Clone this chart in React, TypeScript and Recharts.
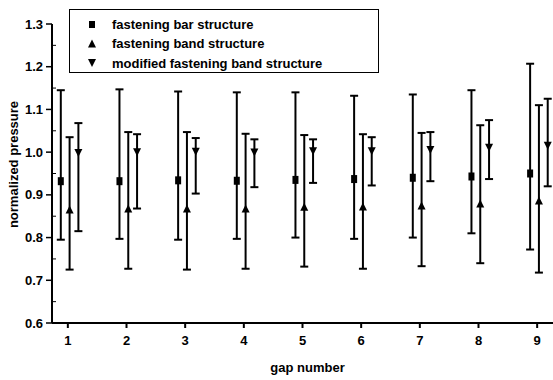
import React from 'react';
import { ComposedChart, Scatter, XAxis, YAxis, ErrorBar, Legend } from 'recharts';

const gaps = [1, 2, 3, 4, 5, 6, 7, 8, 9];

const barMean = [0.932, 0.932, 0.934, 0.933, 0.935, 0.937, 0.940, 0.943, 0.950];
const barLow = [0.795, 0.797, 0.795, 0.797, 0.800, 0.797, 0.800, 0.810, 0.772];
const barHigh = [1.145, 1.147, 1.142, 1.140, 1.140, 1.132, 1.135, 1.145, 1.207];

const bandMean = [0.866, 0.868, 0.868, 0.868, 0.872, 0.873, 0.875, 0.880, 0.887];
const bandLow = [0.725, 0.727, 0.725, 0.727, 0.732, 0.727, 0.733, 0.740, 0.718];
const bandHigh = [1.035, 1.047, 1.047, 1.043, 1.040, 1.042, 1.045, 1.063, 1.110];

const modMean = [0.998, 1.000, 1.001, 0.999, 1.002, 1.002, 1.005, 1.010, 1.015];
const modLow = [0.815, 0.868, 0.903, 0.918, 0.928, 0.922, 0.932, 0.937, 0.920];
const modHigh = [1.068, 1.042, 1.033, 1.030, 1.030, 1.035, 1.047, 1.075, 1.125];

const seriesNames = [
  'fastening bar structure',
  'fastening band structure',
  'modified fastening band structure',
];

const xTicks = [1, 2, 3, 4, 5, 6, 7, 8, 9];
const yMajorTicks = [0.6, 0.7, 0.8, 0.9, 1.0, 1.1, 1.2, 1.3];
const yMinorTicks = [0.65, 0.75, 0.85, 0.95, 1.05, 1.15, 1.25];

const FONT = '"Liberation Sans", Arial, sans-serif';

function build(mean: number[], low: number[], high: number[], offset: number) {
  return gaps.map((g, i) => ({
    x: g + offset,
    y: mean[i],
    err: [mean[i] - low[i], high[i] - mean[i]],
  }));
}

const barData = build(barMean, barLow, barHigh, -0.12);
const bandData = build(bandMean, bandLow, bandHigh, 0.03);
const modData = build(modMean, modLow, modHigh, 0.18);

const SquareShape = (p: any) => (
  <rect x={p.cx - 3} y={p.cy - 4} width={6} height={8} fill="#000" />
);
const UpShape = (p: any) => (
  <polygon points={`${p.cx - 4},${p.cy + 4} ${p.cx + 4},${p.cy + 4} ${p.cx},${p.cy - 4}`} fill="#000" />
);
const DownShape = (p: any) => (
  <polygon points={`${p.cx - 4},${p.cy - 4} ${p.cx + 4},${p.cy - 4} ${p.cx},${p.cy + 4}`} fill="#000" />
);

const YTick = (props: any) => {
  const { x, y, payload } = props;
  const v = payload.value;
  const isMajor = yMajorTicks.some((t) => Math.abs(t - v) < 1e-6);
  if (!isMajor) {
    return <line x1={x} x2={x + 4} y1={y} y2={y} stroke="#000" strokeWidth={1} />;
  }
  return (
    <g>
      <line x1={x - 6} x2={x} y1={y} y2={y} stroke="#000" strokeWidth={1.5} />
      <text x={x - 9} y={y} dy="0.355em" textAnchor="end" fontFamily={FONT} fontSize={13} fontWeight="bold" fill="#000">
        {v.toFixed(1)}
      </text>
    </g>
  );
};

const YLabel = (props: any) => {
  const vb = props.viewBox || { x: 0, y: 24, width: 52, height: 299 };
  const cx = vb.x + 13;
  const cy = vb.y + vb.height / 2 - 9;
  return (
    <text
      x={cx}
      y={cy}
      transform={`rotate(-90, ${cx}, ${cy})`}
      textAnchor="middle"
      dy="0.355em"
      fontFamily={FONT}
      fontSize={13}
      fontWeight="bold"
      fill="#000"
    >
      normalized pressure
    </text>
  );
};

const LegendBox = () => {
  const symbols = [
    (cx: number, cy: number) => <rect x={cx - 3} y={cy - 3} width={6} height={7} fill="#000" />,
    (cx: number, cy: number) => (
      <polygon points={`${cx - 4},${cy + 4} ${cx + 4},${cy + 4} ${cx},${cy - 4}`} fill="#000" />
    ),
    (cx: number, cy: number) => (
      <polygon points={`${cx - 4},${cy - 4} ${cx + 4},${cy - 4} ${cx},${cy + 4}`} fill="#000" />
    ),
  ];
  return (
    <svg width={311} height={65} style={{ display: 'block' }}>
      <rect x={0.5} y={0.5} width={309} height={63} fill="#fff" stroke="#000" strokeWidth={1} />
      {seriesNames.map((n, i) => (
        <g key={n}>
          {symbols[i](23, 15 + i * 19.5)}
          <text x={43} y={15 + i * 19.5} dy="0.355em" fontFamily={FONT} fontSize={13} fontWeight="bold" fill="#000">
            {n}
          </text>
        </g>
      ))}
    </svg>
  );
};

export default function App() {
  return (
    <div style={{ position: 'absolute', left: 0, top: 0, background: '#fff' }}>
      <ComposedChart
        width={553}
        height={380}
        margin={{ top: 24, right: 0, bottom: 0, left: 0 }}
      >
        <XAxis
          type="number"
          dataKey="x"
          domain={[0.73, 9.27]}
          ticks={xTicks}
          allowDataOverflow
          height={57}
          stroke="#000"
          strokeWidth={2}
          tickSize={5}
          tickMargin={8}
          tick={{ fontFamily: FONT, fontSize: 13, fontWeight: 'bold', fill: '#000' }}
          label={{
            value: 'gap number',
            position: 'insideBottom',
            offset: 8,
            dx: 5,
            style: { fontFamily: FONT, fontSize: 13, fontWeight: 'bold', fill: '#000' },
          }}
        />
        <YAxis
          type="number"
          dataKey="y"
          domain={[0.6, 1.3]}
          ticks={[...yMajorTicks, ...yMinorTicks].sort((a, b) => a - b)}
          allowDataOverflow
          interval={0}
          width={52}
          stroke="#000"
          strokeWidth={2}
          tickSize={0}
          tickMargin={0}
          tickLine={false}
          tick={<YTick />}
          label={<YLabel />}
        />
        <Legend
          layout="vertical"
          align="center"
          verticalAlign="middle"
          wrapperStyle={{ left: 69, top: 9, width: 311, height: 65 }}
          content={() => <LegendBox />}
        />
        <Scatter name={seriesNames[0]} data={barData} shape={SquareShape} isAnimationActive={false}>
          <ErrorBar dataKey="err" direction="y" width={4} stroke="#000" strokeWidth={2} />
        </Scatter>
        <Scatter name={seriesNames[1]} data={bandData} shape={UpShape} isAnimationActive={false}>
          <ErrorBar dataKey="err" direction="y" width={4} stroke="#000" strokeWidth={2} />
        </Scatter>
        <Scatter name={seriesNames[2]} data={modData} shape={DownShape} isAnimationActive={false}>
          <ErrorBar dataKey="err" direction="y" width={4} stroke="#000" strokeWidth={2} />
        </Scatter>
      </ComposedChart>
    </div>
  );
}
